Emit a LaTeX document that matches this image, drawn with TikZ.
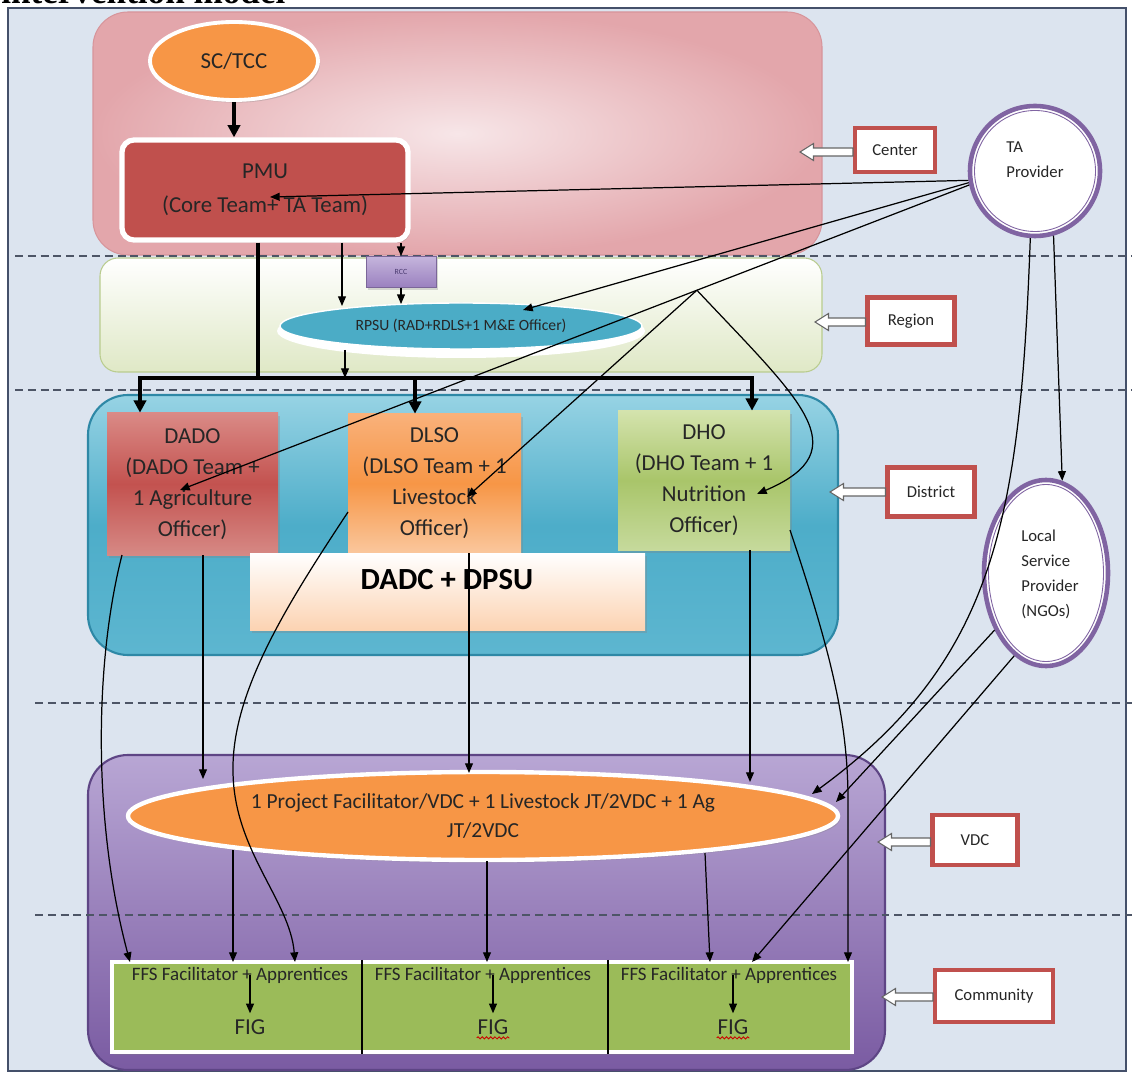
\documentclass[tikz,border=0pt]{standalone}
\usepackage{fontspec}
\setmainfont{Carlito}
\newfontfamily\headfont{Liberation Serif}
\usetikzlibrary{arrows.meta,shapes.geometric,shadows,calc,decorations.pathmorphing}

% one drawing unit = one pixel of the layout grid
\newdimen\pxu
\pxu=0.02cm
\newcommand\setfs[2]{\fontsize{#1}{#2}\selectfont}

\definecolor{bg}{HTML}{DCE4EF}
\definecolor{frameline}{HTML}{44506A}
\definecolor{dashc}{HTML}{4D5566}
\definecolor{pinkout}{HTML}{E3A6AB}
\definecolor{pinkin}{HTML}{F7E6E8}
\definecolor{pinkedge}{HTML}{D7959B}
\definecolor{regbot}{HTML}{DFE8C6}
\definecolor{regedge}{HTML}{B9CC8E}
\definecolor{distA}{HTML}{97D3E4}
\definecolor{distB}{HTML}{4DADC9}
\definecolor{distC}{HTML}{5DB6D0}
\definecolor{distedge}{HTML}{2E88A6}
\definecolor{vdcA}{HTML}{B8A6D4}
\definecolor{vdcB}{HTML}{7A5BA2}
\definecolor{vdcedge}{HTML}{5E4585}
\definecolor{orangeF}{HTML}{F79646}
\definecolor{rpsuC}{HTML}{4BACC6}
\definecolor{pmuC}{HTML}{C0504D}
\definecolor{dadoA}{HTML}{DA8A86}
\definecolor{dadoB}{HTML}{C3524F}
\definecolor{dadoC}{HTML}{D68985}
\definecolor{dlsoA}{HTML}{F9B17A}
\definecolor{dlsoB}{HTML}{F79646}
\definecolor{dlsoC}{HTML}{FAC79D}
\definecolor{dhoA}{HTML}{D4E3AD}
\definecolor{dhoB}{HTML}{A9C56A}
\definecolor{dhoC}{HTML}{C6DA9C}
\definecolor{dadcB}{HTML}{FCD3B2}
\definecolor{rccA}{HTML}{C5B5DC}
\definecolor{rccB}{HTML}{9A80BF}
\definecolor{rcctext}{HTML}{4A3A70}
\definecolor{ffsC}{HTML}{9BBB59}
\definecolor{lspC}{HTML}{8064A2}
\definecolor{labred}{HTML}{C0504D}
\definecolor{txt}{HTML}{262626}

% hollow block arrow from a level label box towards its band
\newcommand\levelarrow[2]{%
  \draw[hollowarrow] let \p1=(#1), \p2=(#2.west) in
    (\p1) -- (\x1+0.27cm,\y1+0.17cm) -- (\x1+0.27cm,\y1+0.08cm)
    -- (\x2,\y1+0.08cm) -- (\x2,\y1-0.08cm) -- (\x1+0.27cm,\y1-0.08cm)
    -- (\x1+0.27cm,\y1-0.17cm) -- cycle;}

\tikzset{
  conn/.style={line width=0.7pt, -{Triangle[length=5.5pt,width=4.5pt]}},
  busarrow/.style={line width=2.4pt, -{Triangle[length=7pt,width=7pt]}},
  busline/.style={line width=2.4pt, {Triangle[length=7pt,width=7pt]}-{Triangle[length=7pt,width=7pt]}},
  dashsep/.style={dashc, line width=1.1pt, dash pattern=on 4.5pt off 2.8pt},
  lvlbox/.style={draw=labred, line width=2.3pt, fill=white, inner sep=0pt, font=\setfs{9.5}{11}},
  hollowarrow/.style={fill=white, draw=black!60, line width=0.6pt},
  softshadow/.style={drop shadow={opacity=0.3, shadow xshift=1.2pt, shadow yshift=-1.5pt}},
  distbox/.style={rectangle, align=center, inner sep=0pt, font=\setfs{13}{17.6}, softshadow},
  provider/.style={ellipse, draw=lspC, line width=2.6pt, fill=white, inner sep=0pt},
  provtext/.style={align=left, font=\setfs{9.5}{14.2}},
  ffstext/.style={font=\setfs{10.8}{12}},
  figtext/.style={font=\setfs{13}{15}},
  squiggle/.style={red!80!black, line width=0.5pt, decorate, decoration={snake, amplitude=0.6pt, segment length=2.4pt}},
}

\begin{document}
\begin{tikzpicture}[x=0.02cm, y=-0.02cm, every node/.append style={text=txt}]
\useasboundingbox (0,0) rectangle (1132,1077);
\fill[white] (0,0) rectangle (1132,1077);
\fill[bg] (8,8) rectangle (1126,1071);
\draw[frameline, line width=0.8pt] (8,8) rectangle (1126,1071);
\node[anchor=base west, inner sep=0pt, text=black, font=\headfont\bfseries\setfs{20}{20}] (title) at (1,4) {intervention model};

% ---------- level bands ----------
\draw[rounded corners=0.7cm, draw=pinkedge, line width=0.6pt, inner color=pinkin, outer color=pinkout] (93,12) rectangle (822,255);
\draw[rounded corners=0.36cm, draw=regedge, line width=0.6pt, top color=white, bottom color=regbot] (100,258) rectangle (822,372);
\draw[rounded corners=0.8cm, draw=distedge, line width=1.2pt, top color=distA, bottom color=distC, middle color=distB] (88,395) rectangle (838,655);
\draw[rounded corners=0.8cm, draw=vdcedge, line width=1.2pt, top color=vdcA, bottom color=vdcB] (88,755) rectangle (885,1070);

% ---------- level separators ----------
\draw[dashsep] (15,256) -- (1132,256);
\draw[dashsep] (15,390) -- (1132,390);
\draw[dashsep] (35,703) -- (1132,703);
\draw[dashsep] (35,915) -- (1132,915);

% ---------- center ----------
\node[ellipse, fill=orangeF, draw=white, line width=2.2pt, minimum width=168\pxu, minimum height=78\pxu, font=\setfs{13}{15}, softshadow] (sctcc) at (234,61) {SC/TCC};
\node[rectangle, rounded corners=0.24cm, fill=pmuC, draw=white, line width=3pt, minimum width=286\pxu, minimum height=100\pxu, align=center, font=\setfs{13}{19.3}, softshadow] (pmu) at (265,190) {PMU\\(Core Team+ TA Team)};

% ---------- region ----------
\node[rectangle, top color=rccA, bottom color=rccB, draw=rccB!80!black, line width=0.4pt, minimum width=70\pxu, minimum height=31\pxu, inner sep=0pt, font=\setfs{4.5}{5}, text=rcctext, softshadow] (rcc) at (401,272) {RCC};
\fill[white] (461,331) ellipse [x radius=184, y radius=27];
\node[ellipse, fill=rpsuC, draw=white, line width=0.8pt, minimum width=362\pxu, minimum height=46\pxu, inner sep=0pt, font=\setfs{8.9}{10}] (rpsu) at (461,326) {RPSU (RAD+RDLS+1 M\&E Officer)};

% ---------- district ----------
\node[distbox, minimum width=171\pxu, minimum height=142\pxu, top color=dadoA, bottom color=dadoC, middle color=dadoB] (dado) at (192.5,484) {DADO\\(DADO Team +\\1 Agriculture\\Officer)};
\node[distbox, minimum width=173\pxu, minimum height=139\pxu, top color=dlsoA, bottom color=dlsoC, middle color=dlsoB] (dlso) at (434.5,483.5) {DLSO\\(DLSO Team + 1\\Livestock\\Officer)};
\node[distbox, minimum width=172\pxu, minimum height=139\pxu, top color=dhoA, bottom color=dhoC, middle color=dhoB] (dho) at (704,480.5) {DHO\\(DHO Team + 1\\Nutrition\\Officer)};
\node[rectangle, minimum width=395\pxu, minimum height=77\pxu, top color=white, bottom color=dadcB, softshadow] (dadc) at (447.5,591.5) {};
\node[font=\bfseries\setfs{17.5}{20}, text=black] (dadctext) at (447,580) {DADC + DPSU};

% ---------- VDC ----------
\node[ellipse, fill=orangeF, draw=white, line width=2.5pt, minimum width=710\pxu, minimum height=88\pxu, inner sep=0pt, align=center, font=\setfs{12.2}{17}, softshadow] (vdcell) at (483,816) {1 Project Facilitator/VDC + 1 Livestock JT/2VDC + 1 Ag\\JT/2VDC};

% ---------- community ----------
\node[rectangle, fill=ffsC, draw=white, line width=2.5pt, minimum width=740\pxu, minimum height=90\pxu, softshadow] (ffs) at (482,1007) {};
\coordinate (div1) at (362,1007);
\coordinate (div2) at (608,1007);
\draw[line width=0.6pt] (ffs.north -| div1) -- (ffs.south -| div1);
\draw[line width=0.6pt] (ffs.north -| div2) -- (ffs.south -| div2);
\node[ffstext] (ffs1) at (240,975) {FFS Facilitator + Apprentices};
\node[ffstext] (ffs2) at (483,975) {FFS Facilitator + Apprentices};
\node[ffstext] (ffs3) at (729,975) {FFS Facilitator + Apprentices};
\node[figtext] (fig1) at (250,1027) {FIG};
\node[figtext] (fig2) at (493,1027) {FIG};
\node[figtext] (fig3) at (733,1027) {FIG};
\draw[squiggle] ([yshift=-2pt,xshift=3pt]fig2.base west) -- ([yshift=-2pt,xshift=-3pt]fig2.base east);
\draw[squiggle] ([yshift=-2pt,xshift=3pt]fig3.base west) -- ([yshift=-2pt,xshift=-3pt]fig3.base east);
\draw[conn] (fig1.north |- ffs1.center) -- (fig1.north);
\draw[conn] (fig2.north |- ffs2.center) -- (fig2.north);
\draw[conn] (fig3.north |- ffs3.center) -- (fig3.north);

% ---------- providers ----------
\node[provider, minimum width=130\pxu, minimum height=130\pxu] (ta) at (1035,171) {};
\draw[lspC, line width=0.5pt] (ta.center) ellipse [x radius=60.5, y radius=60.5];
\node[provtext] (talabel) at (1035,160) {TA\\Provider};
\node[provider, minimum width=124\pxu, minimum height=186\pxu] (lsp) at (1046,573) {};
\draw[lspC, line width=0.5pt] (lsp.center) ellipse [x radius=57.5, y radius=88.5];
\node[provtext] (lsplabel) at (1050,574) {Local\\Service\\Provider\\(NGOs)};

% ---------- level labels ----------
\node[lvlbox, minimum width=80\pxu, minimum height=44\pxu] (lab-center) at (895,150) {Center};
\node[lvlbox, minimum width=87\pxu, minimum height=47\pxu] (lab-region) at (911,321) {Region};
\node[lvlbox, minimum width=87\pxu, minimum height=49\pxu] (lab-district) at (931,492) {District};
\node[lvlbox, minimum width=85\pxu, minimum height=50\pxu] (lab-vdc) at (975,840) {VDC};
\node[lvlbox, minimum width=118\pxu, minimum height=52\pxu] (lab-community) at (994,996) {Community};
\coordinate (tip-center) at (800,152);
\coordinate (tip-region) at (815,322);
\coordinate (tip-district) at (830,492);
\coordinate (tip-vdc) at (878,842);
\coordinate (tip-community) at (882,997);
\levelarrow{tip-center}{lab-center}
\levelarrow{tip-region}{lab-region}
\levelarrow{tip-district}{lab-district}
\levelarrow{tip-vdc}{lab-vdc}
\levelarrow{tip-community}{lab-community}

% ---------- line of command ----------
\draw[busarrow] (sctcc.south) -- (sctcc.south |- pmu.north);
\coordinate (bus-l) at (140,378);
\coordinate (bus-r) at (752,378);
\coordinate (bus-m) at (415,378);
\coordinate (bus-pmu) at (258,378);
\draw[line width=2.4pt] (pmu.south -| bus-pmu) -- (bus-pmu);
\draw[busline] (bus-l |- dado.north) -- (bus-l) -- (bus-r) -- (bus-r |- dho.north);
\draw[busarrow] (bus-m) -- (bus-m |- dlso.north);
\draw[conn] (pmu.south -| rcc.north) -- (rcc.north);
\draw[conn] (rcc.south) -- ([yshift=-1pt]rcc.south |- rpsu.north);
\coordinate (rpsu-in) at (342,306);
\draw[conn] (pmu.south -| rpsu-in) -- (rpsu-in);
\coordinate (rpsu-out) at (345,350);
\draw[conn] (rpsu-out) -- (rpsu-out |- bus-l);

% ---------- technical assistance ----------
\coordinate (pmu-ta) at (270,197);
\coordinate (rpsu-ta) at (523,310);
\coordinate (dado-ta) at (180,490);
\coordinate (dlso-ta) at (467,497);
\coordinate (dho-ta) at (757,494);
\draw[conn] (ta.188) -- (pmu-ta);
\draw[conn] (ta.190) -- (rpsu-ta);
\draw[conn] (ta.192) -- (dado-ta);
\coordinate (split) at ($(ta.192)!0.345!(dado-ta)$);
\draw[conn] (split) -- (dlso-ta);
\draw[conn] (split) .. controls (800,400) and (860,450) .. (dho-ta);
\draw[conn] (ta.286) -- (lsp.80);
\coordinate (vdc-ta) at (812,794);
\draw[conn] (ta.266) .. controls (1020,520) and (995,660) .. (vdc-ta);
\coordinate (vdc-lsp) at (836,802);
\draw[conn] (lsp.228) -- (vdc-lsp);
\coordinate (ffs-lsp) at (752,962);
\draw[conn] (lsp.249) -- (ffs-lsp);

% ---------- district to field ----------
\coordinate (dado-o1) at (122,555);
\coordinate (ffs-a) at (130,962);
\draw[conn] (dado-o1) .. controls (95,660) and (92,820) .. (ffs-a);
\coordinate (vdc-a) at (203,779);
\draw[conn] (dado.south -| vdc-a) -- (vdc-a);
\coordinate (dlso-o1) at (348,512);
\coordinate (ffs-b) at (295,962);
\draw[conn] (dlso-o1) .. controls (290,600) and (232,690) .. (233,770) .. controls (233,850) and (290,900) .. (ffs-b);
\coordinate (vdc-b) at (469,773);
\draw[conn] (dlso.south -| vdc-b) -- (vdc-b);
\coordinate (vdc-c) at (750,782);
\draw[conn] (dho.south -| vdc-c) -- (vdc-c);
\coordinate (dho-o2) at (790,530);
\coordinate (ffs-c) at (848,962);
\draw[conn] (dho-o2) .. controls (830,650) and (848,720) .. (848,800) -- (ffs-c);

% ---------- VDC to field ----------
\coordinate (vdc-o1) at (233,850);
\coordinate (ffs-d) at (233,962);
\draw[conn] (vdc-o1) -- (ffs-d);
\coordinate (vdc-o2) at (487,861);
\coordinate (ffs-e) at (487,962);
\draw[conn] (vdc-o2) -- (ffs-e);
\coordinate (vdc-o3) at (705,853);
\coordinate (ffs-f) at (710,962);
\draw[conn] (vdc-o3) -- (ffs-f);
\end{tikzpicture}
\end{document}
